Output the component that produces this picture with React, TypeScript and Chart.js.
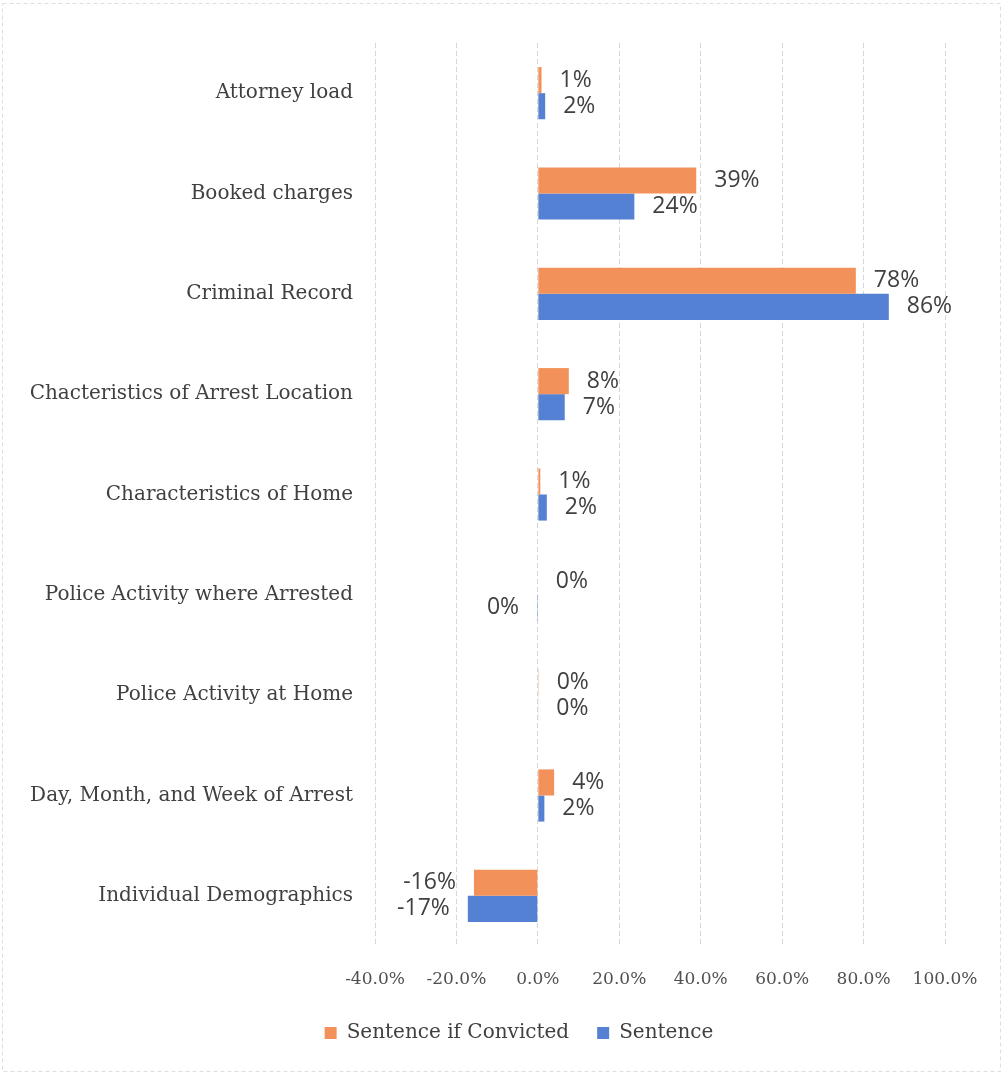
import React, { useEffect, useRef } from "react";
import { Chart, registerables } from "chart.js";

Chart.register(...registerables);

const categories = [
  "Attorney load",
  "Booked charges",
  "Criminal Record",
  "Chacteristics of Arrest Location",
  "Characteristics of Home",
  "Police Activity where Arrested",
  "Police Activity at Home",
  "Day, Month, and Week of Arrest",
  "Individual Demographics",
];

const seriesNames = ["Sentence if Convicted", "Sentence"];
const sentenceIfConvicted = [0.9, 38.9, 78.1, 7.6, 0.6, 0, 0.2, 4, -15.7];
const sentence = [1.8, 23.7, 86.2, 6.6, 2.2, -0.2, 0.1, 1.6, -17.2];

const xMin = -40;
const xMax = 100;
const xStep = 20;

const ORANGE = "#F2925A";
const BLUE = "#5481D3";

const dataLabelPlugin = {
  id: "dataLabels",
  afterDatasetsDraw(chart: any) {
    const ctx = chart.ctx;
    ctx.save();
    ctx.font = "23px 'Open Sans'";
    ctx.fillStyle = "#404040";
    ctx.textBaseline = "middle";
    chart.data.datasets.forEach((ds: any, di: number) => {
      const meta = chart.getDatasetMeta(di);
      meta.data.forEach((el: any, i: number) => {
        const v = ds.data[i];
        const r = Math.round(v);
        const txt = (r === 0 ? 0 : r) + "%";
        if (v >= 0) {
          ctx.textAlign = "left";
          ctx.fillText(txt, el.x + 18, el.y);
        } else {
          ctx.textAlign = "right";
          ctx.fillText(txt, el.x - 18, el.y);
        }
      });
    });
    ctx.restore();
  },
};

const framePlugin = {
  id: "frame",
  afterLayout(chart: any) {
    // let the long category labels draw past the axis box edge
    const y = chart.scales.y;
    if (y) y.left = 0;
  },
  beforeDraw(chart: any) {
    const ctx = chart.ctx;
    ctx.save();
    ctx.fillStyle = "#ffffff";
    ctx.fillRect(0, 0, chart.width, chart.height);
    ctx.strokeStyle = "#dedede";
    ctx.lineWidth = 1;
    ctx.setLineDash([4, 3]);
    ctx.strokeRect(2.5, 3.5, chart.width - 5, chart.height - 6);
    ctx.restore();
  },
};

export default function App() {
  const ref = useRef<HTMLCanvasElement | null>(null);

  useEffect(() => {
    document.body.style.margin = "0";
    const canvas = ref.current;
    if (!canvas) return;
    const chart = new Chart(canvas, {
      type: "bar",
      data: {
        labels: categories,
        datasets: [
          {
            label: seriesNames[0],
            data: sentenceIfConvicted,
            backgroundColor: ORANGE,
            borderWidth: 0,
            categoryPercentage: 0.52,
            barPercentage: 1,
          },
          {
            label: seriesNames[1],
            data: sentence,
            backgroundColor: BLUE,
            borderWidth: 0,
            categoryPercentage: 0.52,
            barPercentage: 1,
          },
        ],
      },
      options: {
        indexAxis: "y",
        responsive: false,
        animation: false,
        maintainAspectRatio: false,
        layout: { padding: { top: 43, right: 58, bottom: 21, left: 93 } },
        plugins: {
          tooltip: { enabled: false },
          legend: {
            position: "bottom",
            labels: {
              boxWidth: 12,
              boxHeight: 12,
              padding: 28,
              color: "#404040",
              font: { family: "'DejaVu Serif'", size: 20 },
            },
          },
        },
        scales: {
          x: {
            min: xMin,
            max: xMax,
            ticks: {
              stepSize: xStep,
              color: "#505050",
              padding: 23,
              font: { family: "'DejaVu Serif'", size: 17 },
              callback: (v: any) => Number(v).toFixed(1) + "%",
            },
            grid: {
              color: "#d6d6d6",
              drawTicks: false,
              lineWidth: 1,
            },
            border: { display: false, dash: [5, 3] },
            afterFit: (s: any) => {
              s.height = 49;
            },
          },
          y: {
            grid: { display: false, drawTicks: false },
            border: { display: false },
            ticks: {
              color: "#404040",
              padding: 22,
              font: { family: "'DejaVu Serif'", size: 20 },
            },
            afterFit: (s: any) => {
              s.width = 282;
            },
          },
        },
      },
      plugins: [framePlugin, dataLabelPlugin],
    } as any);
    return () => chart.destroy();
  }, []);

  return (
    <div style={{ width: 1003, height: 1074 }}>
      <canvas ref={ref} width={1003} height={1074} style={{ display: "block" }} />
    </div>
  );
}
